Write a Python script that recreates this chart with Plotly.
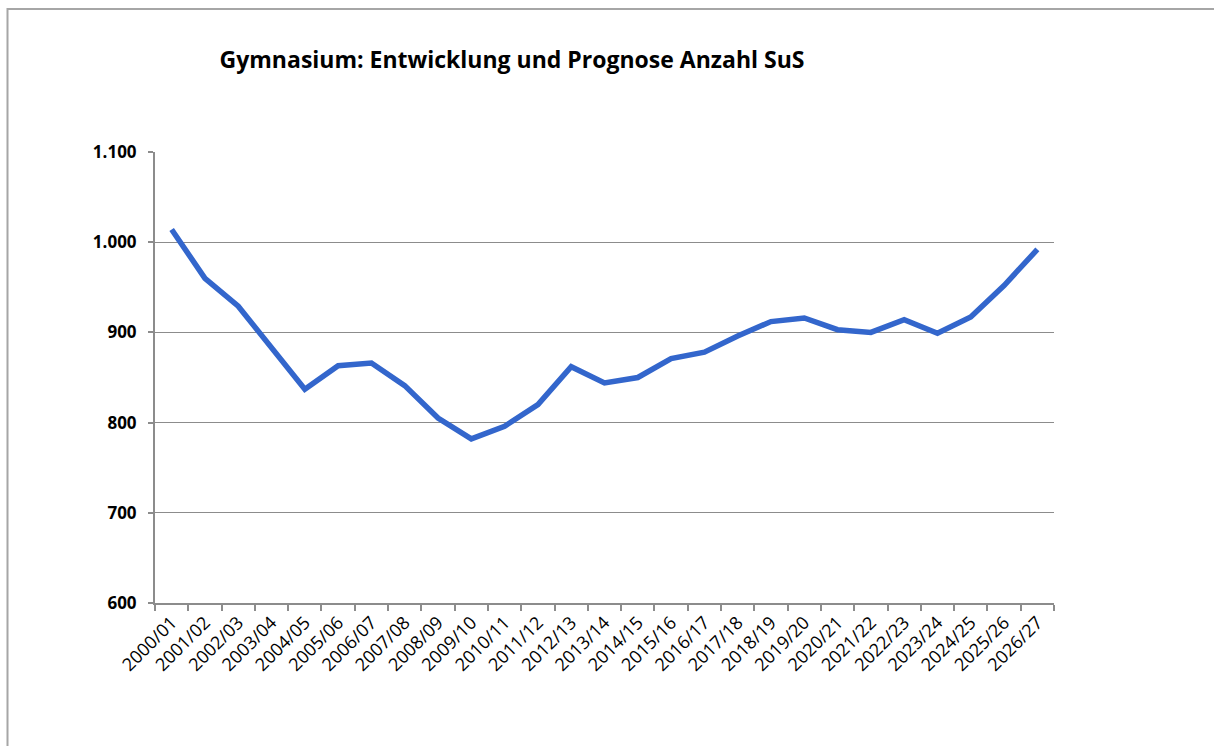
import plotly.graph_objects as go

# School years (category axis)
schuljahre = [
    "2000/01", "2001/02", "2002/03", "2003/04", "2004/05", "2005/06", "2006/07",
    "2007/08", "2008/09", "2009/10", "2010/11", "2011/12", "2012/13", "2013/14",
    "2014/15", "2015/16", "2016/17", "2017/18", "2018/19", "2019/20", "2020/21",
    "2021/22", "2022/23", "2023/24", "2024/25", "2025/26", "2026/27",
]

# Number of pupils (SuS), actual and forecast
anzahl_sus = [
    1014, 960, 929, 883, 837, 863, 866, 841, 805, 782, 796, 820, 862, 844,
    850, 871, 878, 896, 912, 916, 903, 900, 914, 899, 917, 952, 992,
]

y_ticks = [600, 700, 800, 900, 1000, 1100]

W, H = 1214, 746
L, R, T, B = 155, 160, 152, 143
pw, ph = W - L - R, H - T - B


def px_x(x):
    return (x - L) / pw


def px_y(y):
    return (H - B - y) / ph


FONT = "Open Sans, Lato, sans-serif"
grey = "#8c8c8c"

fig = go.Figure()
fig.add_trace(go.Scatter(
    x=schuljahre,
    y=anzahl_sus,
    mode="lines",
    line=dict(color="#3366CC", width=5.5),
    hoverinfo="x+y",
))

fig.update_layout(
    width=W,
    height=H,
    margin=dict(l=L, r=R, t=T, b=B),
    paper_bgcolor="white",
    plot_bgcolor="white",
    separators=",.",
    showlegend=False,
    font=dict(family=FONT, color="black"),
    title=dict(
        text="Gymnasium: Entwicklung und Prognose Anzahl SuS",
        x=512 / W,
        xref="container",
        xanchor="center",
        y=1 - 59.5 / H,
        yref="container",
        yanchor="middle",
        font=dict(size=23, family=FONT, color="black", weight="bold"),
    ),
    xaxis=dict(
        type="category",
        categoryorder="array",
        categoryarray=schuljahre,
        tickson="boundaries",
        ticks="outside",
        ticklen=6,
        tickwidth=1.5,
        tickcolor=grey,
        showline=True,
        linecolor=grey,
        linewidth=2,
        showgrid=False,
        tickangle=-45,
        tickfont=dict(size=18, family=FONT, color="black"),
        range=[-0.5, len(schuljahre) - 0.5],
        fixedrange=True,
    ),
    yaxis=dict(
        range=[600, 1100],
        tickvals=y_ticks,
        tickformat=",d",
        ticks="outside",
        ticklen=5,
        tickwidth=1.5,
        tickcolor=grey,
        showline=True,
        linecolor=grey,
        linewidth=2,
        showgrid=True,
        gridcolor=grey,
        gridwidth=1.2,
        zeroline=False,
        ticklabelstandoff=8,
        tickfont=dict(size=17, family=FONT, color="black", weight="bold"),
        fixedrange=True,
    ),
)

# Chart frame
fig.add_shape(
    type="rect",
    xref="paper", yref="paper",
    x0=px_x(7.5), x1=px_x(1225),
    y0=px_y(760), y1=px_y(9),
    line=dict(color="#a6a6a6", width=2),
    fillcolor="rgba(0,0,0,0)",
    layer="below",
)

fig.write_html("out.html")
